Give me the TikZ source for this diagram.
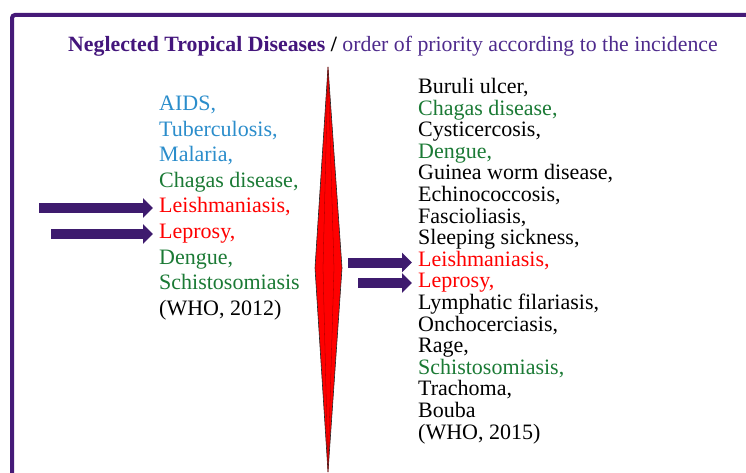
\documentclass[tikz,border=0pt]{standalone}
\usepackage{fontspec}
\setmainfont{Liberation Serif}
\usetikzlibrary{arrows.meta, calc}
\definecolor{Frame}{HTML}{461A78}
\definecolor{ArrowPurple}{HTML}{3E1B6E}
\definecolor{TitlePurple}{HTML}{4E2A8C}
\definecolor{TitleDark}{HTML}{44167C}
\definecolor{SkyBlue}{HTML}{2B8DCB}
\definecolor{Leaf}{HTML}{1B7A35}
\definecolor{Alert}{HTML}{FF0000}

\begin{document}
\begin{tikzpicture}[x=1pt, y=-1pt,
    item/.style={anchor=base west, inner sep=0pt, font=\fontsize{22}{22}\selectfont},
    fatarrow/.style={draw=ArrowPurple, line width=10pt, -{Triangle[length=10pt, width=19pt]}, shorten >=6pt},
    spike/.style={fill=Alert, draw=black!85, line width=0.6pt, line join=miter}
]
\useasboundingbox (0,0) rectangle (746,473);

% Frame
\draw[Frame, line width=4pt, rounded corners=3pt] (12,480) -- (12,15) -- (760,15);

% Title
\node[anchor=base west, inner sep=0pt, font=\fontsize{21.8}{22}\selectfont, text=TitlePurple] (title) at (68,52)
    {\textcolor{TitleDark}{\textbf{Neglected Tropical Diseases}} \textcolor{black}{\textbf{/}} order of priority according to the incidence};

% Spike in the middle
\draw[spike] (328,67) -- (342,268) -- (328,472) -- (315,268) -- cycle;
\draw[red!60!black, line width=0.3pt] (328,67) -- (323,268) -- (328,472);
\draw[red!60!black, line width=0.3pt] (328,67) -- (334,268) -- (328,472);

% Left list (WHO, 2012)
\foreach \c/\t [count=\i] in {SkyBlue/{AIDS,}, SkyBlue/{Tuberculosis,}, SkyBlue/{Malaria,},
    Leaf/{Chagas disease,}, Alert/{Leishmaniasis,}, Alert/{Leprosy,}, Leaf/{Dengue,},
    Leaf/{Schistosomiasis}, black/{(WHO, 2012)}}
  \node[item, text=\c] (L\i) at (159, {110.5+25.6*(\i-1)}) {\t};

% Right list (WHO, 2015)
\foreach \c/\t [count=\i] in {black/{Buruli ulcer,}, Leaf/{Chagas disease,}, black/{Cysticercosis,},
    Leaf/{Dengue,}, black/{Guinea worm disease,}, black/{Echinococcosis,}, black/{Fascioliasis,},
    black/{Sleeping sickness,}, Alert/{Leishmaniasis,}, Alert/{Leprosy,}, black/{Lymphatic filariasis,},
    black/{Onchocerciasis,}, black/{Rage,}, Leaf/{Schistosomiasis,}, black/{Trachoma,},
    black/{Bouba}, black/{(WHO, 2015)}}
  \node[item, text=\c] (R\i) at (418, {93.5+21.6*(\i-1)}) {\t};

% Arrows
\coordinate (la1) at (39,208);
\coordinate (la2) at (51,234);
\coordinate (ra1) at (348,262.5);
\coordinate (ra2) at (358,283);
\draw[fatarrow] (la1) -- (la1 -| L5.west);
\draw[fatarrow] (la2) -- (la2 -| L6.west);
\draw[fatarrow] (ra1) -- (ra1 -| R9.west);
\draw[fatarrow] (ra2) -- (ra2 -| R10.west);

\end{tikzpicture}
\end{document}
